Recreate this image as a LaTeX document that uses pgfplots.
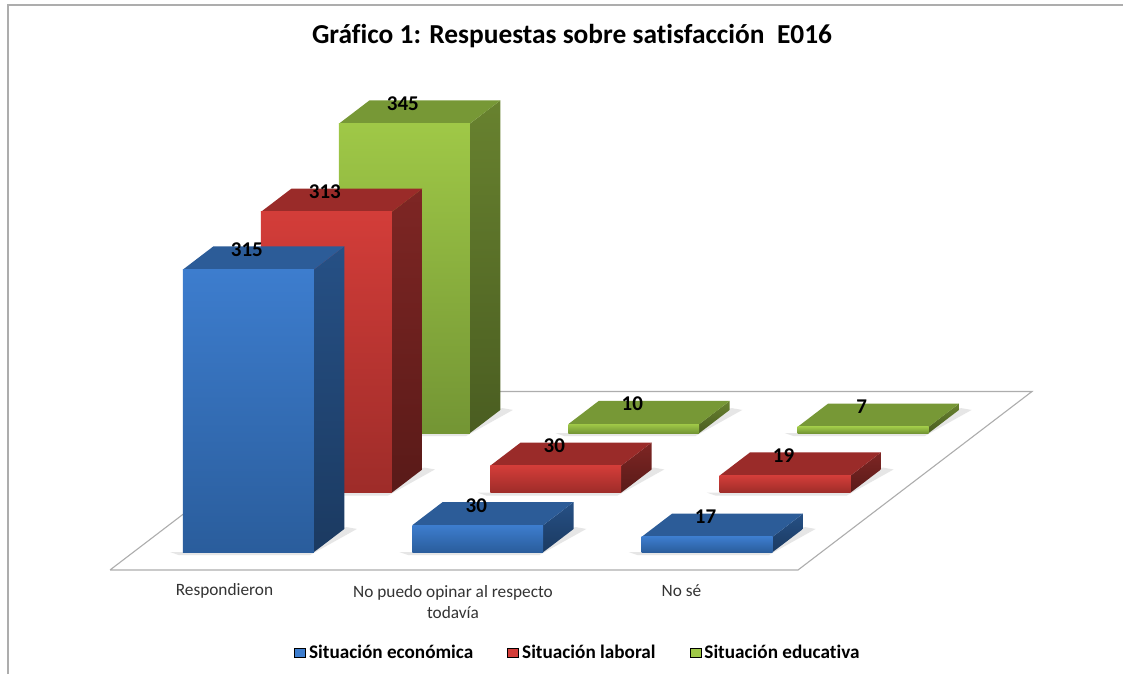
\documentclass[border=0pt]{standalone}
\usepackage{fontspec}
\setmainfont[Ligatures=NoCommon]{Carlito}
\usepackage{pgfplots}
\pgfplotsset{compat=1.18}

\definecolor{azulA}{HTML}{3D7DCE}
\definecolor{azulB}{HTML}{2A5D9C}
\definecolor{azulT}{HTML}{2C5C98}
\definecolor{azulS}{HTML}{265085}
\definecolor{azulU}{HTML}{1B3A61}
\definecolor{rojoA}{HTML}{D33D39}
\definecolor{rojoB}{HTML}{9E2C29}
\definecolor{rojoT}{HTML}{9A2B29}
\definecolor{rojoS}{HTML}{7E2624}
\definecolor{rojoU}{HTML}{591A18}
\definecolor{verdeA}{HTML}{9FC847}
\definecolor{verdeB}{HTML}{739534}
\definecolor{verdeT}{HTML}{779836}
\definecolor{verdeS}{HTML}{68822F}
\definecolor{verdeU}{HTML}{4A5D21}
\definecolor{marco}{HTML}{ADADAD}
\definecolor{sombra}{HTML}{E6E6E6}

% one closed polygon through the axis
\newcommand{\cara}[2]{%
  \edef\tmp{\noexpand\addplot3[forget plot,mark=none,#1] coordinates {#2};}\tmp}

\gdef\etiq{}
% \barra{category}{series}{value}{colour prefix}
\newcommand{\barra}[4]{%
  \pgfmathsetmacro\xa{#1+0.216}\pgfmathsetmacro\xb{#1+0.787}\pgfmathsetmacro\xm{#1+0.5015}%
  \pgfmathsetmacro\ya{#2+0.30}\pgfmathsetmacro\yb{#2+0.69}%
  \pgfmathsetmacro\sa{\xa-0.055}\pgfmathsetmacro\sb{\xb+0.055}%
  \pgfmathsetmacro\sc{\ya-0.05}\pgfmathsetmacro\sd{\yb+0.03}%
  \cara{draw=none,fill=sombra}{(\sa,\ya,0) (\xa,\sc,0) (\xb,\sc,0) (\sb,\yb,0) (\xb,\sd,0) (\xa,\ya,0) (\sa,\ya,0)}%
  \cara{draw=none,top color=#4S,bottom color=#4U}{(\xb,\ya,0) (\xb,\yb,0) (\xb,\yb,#3) (\xb,\ya,#3) (\xb,\ya,0)}%
  \cara{draw=none,fill=#4T}{(\xa,\ya,#3) (\xb,\ya,#3) (\xb,\yb,#3) (\xa,\yb,#3) (\xa,\ya,#3)}%
  \cara{draw=none,top color=#4A,bottom color=#4B}{(\xa,\ya,0) (\xb,\ya,0) (\xb,\ya,#3) (\xa,\ya,#3) (\xa,\ya,0)}%
  \xdef\etiq{\etiq (\xm,\ya,#3)}%
}

\begin{document}
\begin{tikzpicture}[x=1pt,y=1pt]
\path[use as bounding box] (0,0) rectangle (1123,674);
\draw[marco,line width=1.3pt] (8,0) -- (8,669) -- (1123,669);

\begin{axis}[
  at={(110pt,104pt)},anchor=origin,
  x={(229.33pt,0pt)},y={(78pt,59.5pt)},z={(0pt,0.897pt)},
  xmin=0,xmax=3,ymin=0,ymax=3,zmin=0,zmax=400,
  hide axis,clip=false,
  /pgf/number format/assume math mode=true,
  legend columns=3,
  legend style={at={(axis cs:2.04,0,-92.5)},anchor=center,draw=none,fill=none,
    inner sep=0pt,font=\fontsize{19.2}{22}\selectfont\bfseries,
    /tikz/every odd column/.append style={column sep=1.5pt},
    /tikz/every even column/.append style={column sep=32pt}},
  legend image code/.code={\fill[#1] (0pt,-4pt) rectangle (11pt,5pt);},
]
% floor
\cara{draw=marco,line width=1.1pt,fill=white}{(0,0,0) (3,0,0) (3,3,0) (0,3,0) (0,0,0)}

% values, back row first so that nearer bars cover it
\barra{0}{2}{345}{verde}
\barra{1}{2}{10}{verde}
\barra{2}{2}{7}{verde}
\barra{0}{1}{313}{rojo}
\barra{1}{1}{30}{rojo}
\barra{2}{1}{19}{rojo}
\barra{0}{0}{315}{azul}
\barra{1}{0}{30}{azul}
\barra{2}{0}{17}{azul}

% data labels
\edef\tmp{\noexpand\addplot3[forget plot,draw=none,mark=none,point meta=z,
  nodes near coords,
  every node near coord/.append style={anchor=center,xshift=-1.5pt,yshift=20pt,text=black,
    font=\noexpand\fontsize{21}{24}\noexpand\selectfont\noexpand\bfseries}]
  coordinates {\etiq};}\tmp

\addlegendimage{fill=azulA}
\addlegendentry{Situación económica}
\addlegendimage{fill=rojoA}
\addlegendentry{Situación laboral}
\addlegendimage{fill=verdeA}
\addlegendentry{Situación educativa}
\end{axis}

\node[font=\fontsize{27.4}{30}\selectfont\bfseries] at (572,638) {Gráfico 1: Respuestas sobre satisfacción\ \ E016};
\node[font=\fontsize{17.3}{21}\selectfont,text=black!80] at (224.5,83) {Respondieron};
\node[font=\fontsize{17.3}{21}\selectfont,text=black!80,align=center,anchor=north] at (453,92) {No puedo opinar al respecto\\todavía};
\node[font=\fontsize{17.3}{21}\selectfont,text=black!80] at (681.5,83) {No sé};
\end{tikzpicture}
\end{document}
